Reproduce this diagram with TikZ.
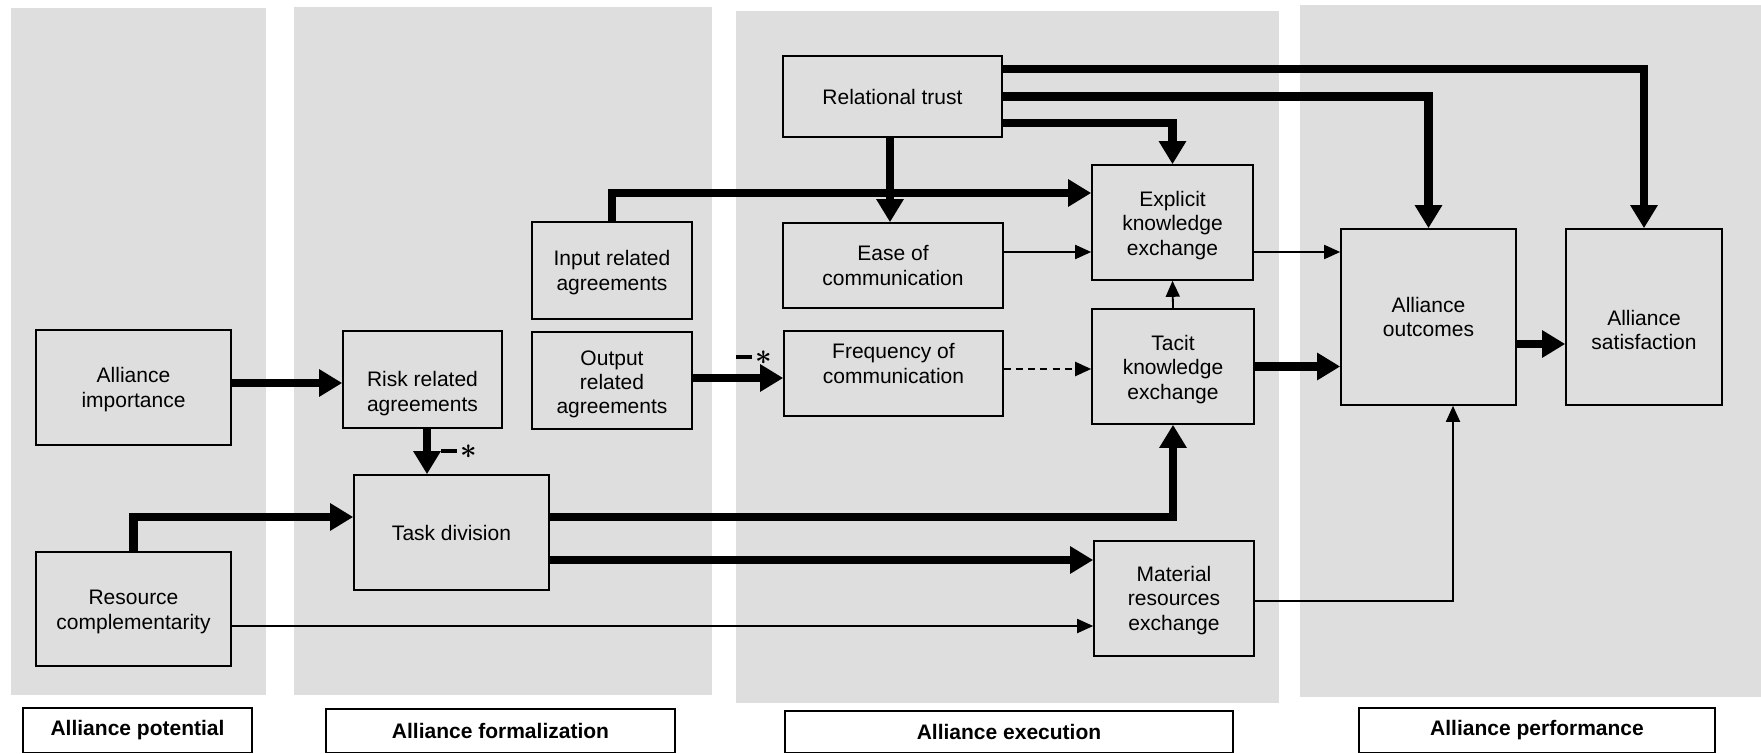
\documentclass[tikz,border=0pt]{standalone}
\usepackage{bm}
\usepackage{fontspec}
\setmainfont{Liberation Sans}
\usetikzlibrary{arrows.meta}
\definecolor{panelgray}{RGB}{222,222,222}
% negative-sign marker: a short bar followed by an asterisk, both centred on the math axis
\newcommand{\negsign}{\rule[2.4pt]{8pt}{2.2pt}\hspace{1.5pt}{\fontsize{14}{14}\selectfont$\bm{\ast}$}}
\begin{document}
\begin{tikzpicture}[x=0.5pt, y=-0.5pt,
  nodefont/.style={font=\fontsize{10.5}{12.1}\selectfont},
  box/.style={draw=black, line width=0.8pt, align=center, inner sep=2pt, nodefont},
  lbl/.style={align=center, inner sep=0pt, nodefont},
  stagebox/.style={draw=black, fill=white, line width=0.8pt, inner sep=0pt,
    font=\bfseries\fontsize{10.5}{12}\selectfont},
  heavy/.style={line width=4.2pt, -{Triangle[length=11.5pt,width=13pt]}},
  light/.style={line width=0.9pt, -{Triangle[length=8pt,width=7pt]}},
  signlbl/.style={inner sep=0pt, anchor=base west}
]
\useasboundingbox (0,0) rectangle (1761,754);

% stage panels
\fill[panelgray] (11,8) rectangle (266,695);
\fill[panelgray] (294,7) rectangle (712,695);
\fill[panelgray] (736,11) rectangle (1279,703);
\fill[panelgray] (1300,5) rectangle (1761,697);

% stage titles
\node[stagebox, minimum width=114.5pt, minimum height=22.25pt] (tpot) at (137.5,730.25) {Alliance potential};
\node[stagebox, minimum width=174.5pt, minimum height=21.75pt] (tform) at (500.5,730.75) {Alliance formalization};
\node[stagebox, minimum width=224pt, minimum height=20.75pt] (texec) at (1009,731.75) {Alliance execution};
\node[stagebox, minimum width=178pt, minimum height=22.25pt] (tperf) at (1537,730.25) {Alliance performance};

% constructs
\node[box, minimum width=97.5pt, minimum height=57.5pt,
  label={[lbl, yshift=-1pt]center:Alliance\\importance}] (imp) at (133.5,387.5) {};
\node[box, minimum width=97.5pt, minimum height=57pt,
  label={[lbl, yshift=-1.5pt]center:Resource\\complementarity}] (res) at (133.5,609) {};
\node[box, minimum width=79.5pt, minimum height=48.5pt,
  label={[lbl, yshift=-7pt]center:Risk related\\agreements}] (risk) at (422.5,379.5) {};
\node[box, minimum width=97.5pt, minimum height=57.5pt] (task) at (451.5,532.5) {Task division};
\node[box, minimum width=80pt, minimum height=48.5pt,
  label={[lbl, yshift=-1pt]center:Input related\\agreements}] (inp) at (612,270.5) {};
\node[box, minimum width=80pt, minimum height=48.5pt,
  label={[lbl, yshift=-2pt]center:Output\\related\\agreements}] (outp) at (612,380.5) {};
\node[box, minimum width=109.5pt, minimum height=40.5pt] (trust) at (892.5,96.5) {Relational trust};
\node[box, minimum width=110pt, minimum height=42.5pt] (ease) at (893,265.5) {Ease of\\communication};
\node[box, minimum width=109.5pt, minimum height=42.5pt,
  label={[lbl, yshift=5pt]center:Frequency of\\communication}] (freq) at (893.5,373.5) {};
\node[box, minimum width=80.5pt, minimum height=57.5pt,
  label={[lbl, yshift=-1.5pt]center:Explicit\\knowledge\\exchange}] (expl) at (1172.5,222.5) {};
\node[box, minimum width=81pt, minimum height=57.5pt,
  label={[lbl, yshift=-1.5pt]center:Tacit\\knowledge\\exchange}] (tacit) at (1173,366.5) {};
\node[box, minimum width=80pt, minimum height=57.5pt,
  label={[lbl, yshift=-1pt]center:Material\\resources\\exchange}] (mat) at (1174,598.5) {};
\node[box, minimum width=87.5pt, minimum height=88pt] (outc) at (1428.5,317) {Alliance\\outcomes};
\node[box, minimum width=78pt, minimum height=88pt,
  label={[lbl, yshift=-6.5pt]center:Alliance\\satisfaction}] (sat) at (1644,317) {};

% relational trust paths
\draw[heavy] ([yshift=13.75pt]trust.east) -| (sat.north);
\draw[heavy] (trust.east) -| (outc.north);
\draw[heavy] ([yshift=-13.25pt]trust.east) -| (expl.north);
\draw[heavy] ([xshift=-1.25pt]trust.south) -- ([xshift=-1.25pt]trust.south |- ease.north);

% agreements and communication
\draw[heavy] (inp.north) |- ([yshift=14.75pt]expl.west);
\draw[light] ([yshift=6.75pt]ease.east) -- ([yshift=6.75pt]ease.east -| expl.west);
\draw[light] ([yshift=-14.75pt]expl.east) -- ([yshift=-14.75pt]expl.east -| outc.west);
\draw[light] (tacit.north) -- (expl.south);
\draw[line width=1.1pt, dash pattern=on 3.5pt off 2.6pt, -{Triangle[length=8pt,width=7pt]}]
  ([yshift=2.25pt]freq.east) -- ([yshift=2.25pt]freq.east -| tacit.west);
\draw[heavy] (tacit.east) -- (tacit.east -| outc.west);
\draw[heavy] ([yshift=-13.5pt]outc.east) -- ([yshift=-13.5pt]outc.east -| sat.west);
\draw[heavy] ([yshift=1.25pt]outp.east) -- ([yshift=1.25pt]outp.east -| freq.west);
\node[signlbl] (negA) at (736,364) {\negsign};

% potential and formalization paths
\draw[heavy] ([yshift=2.25pt]imp.east) -- ([yshift=2.25pt]imp.east -| risk.west);
\draw[heavy] ([xshift=2.25pt]risk.south) -- ([xshift=2.25pt]risk.south |- task.north);
\node[signlbl] (negB) at (441,458) {\negsign};
\draw[heavy] (res.north) |- ([yshift=7.75pt]task.west);
\draw[heavy] ([yshift=7.75pt]task.east) -| (tacit.south);
\draw[heavy] ([yshift=-13.75pt]task.east) -- ([yshift=-13.75pt]task.east -| mat.west);
\draw[light] ([yshift=-8.5pt]res.east) -- ([yshift=-8.5pt]res.east -| mat.west);
\draw[light] ([yshift=-1.25pt]mat.east) -| ([xshift=12.25pt]outc.south);
\end{tikzpicture}
\end{document}
